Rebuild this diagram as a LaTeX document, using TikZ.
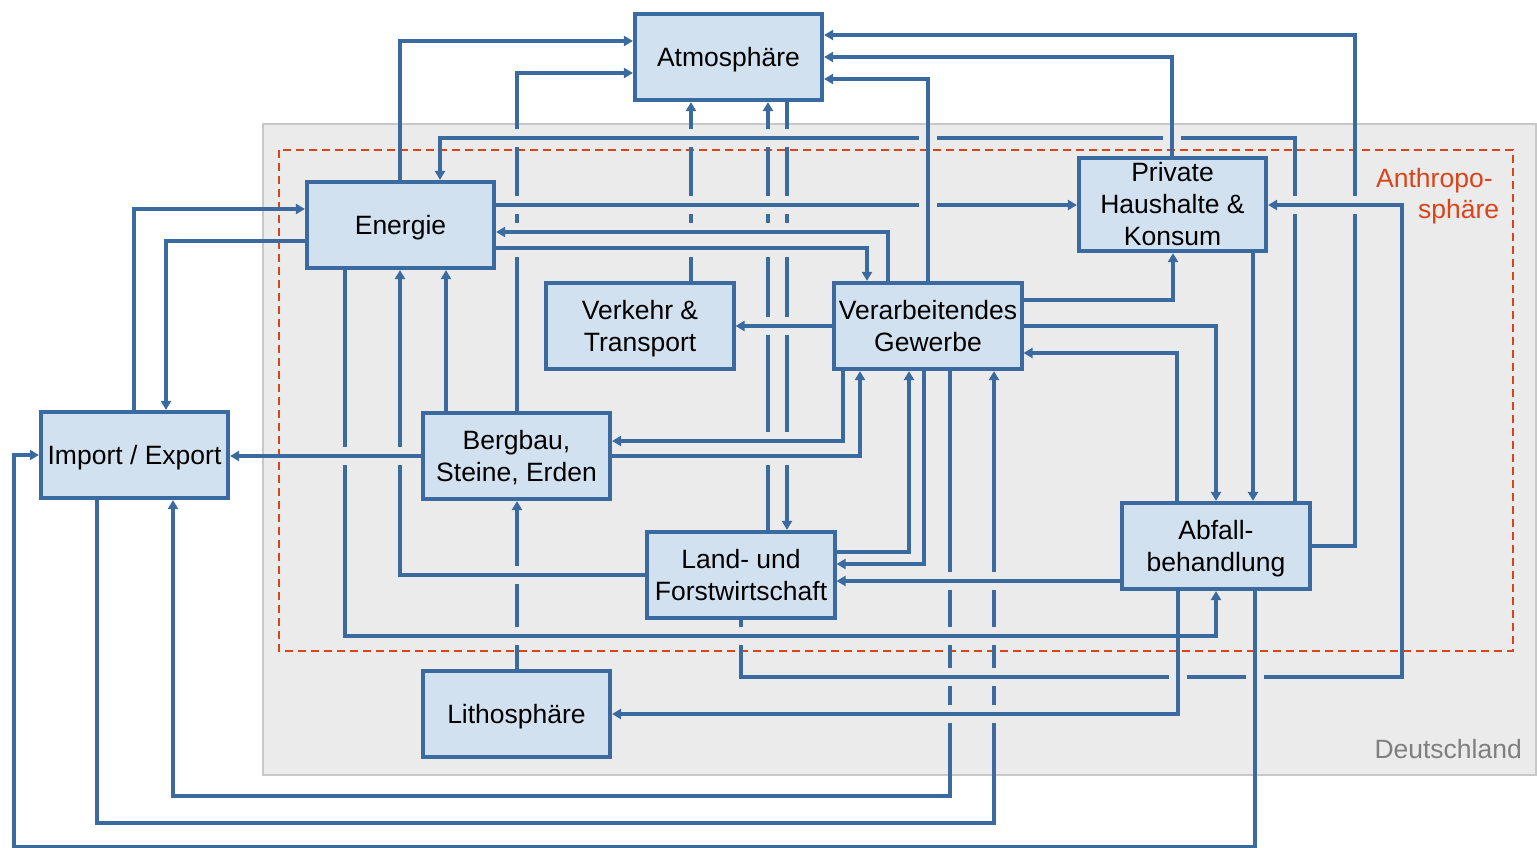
\documentclass[tikz,border=0pt]{standalone}
\usepackage{fontspec}
\setmainfont{Liberation Sans}
\usetikzlibrary{arrows.meta}
\definecolor{linec}{HTML}{3A6A9F}
\definecolor{boxc}{HTML}{D2E1F0}
\definecolor{bgc}{HTML}{EBEBEB}
\definecolor{bgborder}{HTML}{C8C8C8}
\definecolor{redc}{HTML}{D9441A}
\definecolor{greytext}{HTML}{7F7F7F}
\newcommand\bxfont{\fontsize{26.5}{32}\selectfont}
% line strut with the font's ascent and descent
\newcommand\lst{\rule[-0.212em]{0pt}{1.117em}}
% gap in a vertical line crossed by a horizontal one
\newcommand\vgapm[2]{\fill[bgc] (#1-3.5,#2-9) rectangle (#1+3.5,#2+9);
  \fill[linec] (#1-3.7,#2-1.65) rectangle (#1+3.7,#2+1.65);}
% gap in a horizontal line crossed by a vertical one
\newcommand\hgapm[2]{\fill[bgc] (#1-9,#2-3.5) rectangle (#1+9,#2+3.5);
  \fill[linec] (#1-1.65,#2-3.7) rectangle (#1+1.65,#2+3.7);}
\begin{document}
\begin{tikzpicture}[x=1pt,y=-1pt,
  box/.style={draw=linec, fill=boxc, line width=3.7pt, minimum width=187.5pt,
    minimum height=86.5pt, inner sep=0pt, align=center, font=\bxfont},
  flow/.style={draw=linec, line width=3.3pt, -{Triangle[length=9pt,width=10pt]}},
  lbl/.style={font=\bxfont, inner sep=0pt}]
\useasboundingbox (0,0) rectangle (1537,848);
% regions
\draw[fill=bgc, draw=bgborder, line width=2pt] (263,124) rectangle (1536,775);
\draw[draw=redc, line width=1.8pt, dash pattern=on 8pt off 5pt] (279,150) rectangle (1513,651);
\node[lbl, text=greytext, anchor=east] (de) at (1522,749) {Deutschland};
\node[lbl, text=redc, anchor=base west] (an1) at (1376,187) {Anthropo-};
\node[lbl, text=redc, anchor=base west] (an2) at (1418,218) {sphäre};
% boxes
\node[box] (at) at (728.5,57) {\lst Atmosphäre};
\node[box] (en) at (400.5,225) {\lst Energie};
\node[box] (ph) at (1172.5,204.5) {\lst Private\\\lst Haushalte \&\\\lst Konsum};
\node[box] (vk) at (640,326) {\lst Verkehr \&\\\lst Transport};
\node[box] (vg) at (928,326) {\lst Verarbeitendes\\\lst Gewerbe};
\node[box] (ie) at (134.5,455) {\lst Import / Export};
\node[box] (bb) at (516.5,456) {\lst Bergbau,\\\lst Steine, Erden};
\node[box] (lf) at (741,575) {\lst Land- und\\\lst Forstwirtschaft};
\node[box] (ab) at (1216,546) {\lst Abfall-\\\lst behandlung};
\node[box] (lt) at (516.5,714) {\lst Lithosphäre};
% into Atmosphaere
\draw[flow] (en.north -| 400,0) |- (at.west |- 0,41);
\draw[flow] (bb.north -| 517,0) |- (at.west |- 0,73);
\draw[flow] (vk.north -| 691,0) -- (at.south -| 691,0);
\draw[flow] (lf.north -| 768,0) -- (at.south -| 768,0);
\draw[flow] (at.south -| 787,0) -- (lf.north -| 787,0);
\draw[flow] (vg.north -| 928,0) |- (at.east |- 0,79);
\draw[flow] (ph.north -| 1172,0) |- (at.east |- 0,57);
\draw[flow] (ab.east |- 0,546) -| (1355,35) -- (at.east |- 0,35);
% Energie
\draw[flow] (ab.north -| 1295,0) |- (440,138) -- (en.north -| 440,0);
\draw[flow] (en.east |- 0,205) -- (ph.west |- 0,205);
\draw[flow] (vg.north -| 888,0) |- (en.east |- 0,232);
\draw[flow] (en.east |- 0,248) -| (vg.north -| 867,0);
\draw[flow] (en.west |- 0,241) -| (ie.north -| 166,0);
\draw[flow] (ie.north -| 134,0) |- (en.west |- 0,209);
\draw[flow] (bb.north -| 446,0) -- (en.south -| 446,0);
\draw[flow] (lf.west |- 0,575) -| (en.south -| 400,0);
\draw[flow] (en.south -| 345,0) |- (1216,636) -- (ab.south -| 1216,0);
% Bergbau
\draw[flow] (bb.west |- 0,456) -- (ie.east |- 0,456);
\draw[flow] (vg.south -| 843,0) |- (bb.east |- 0,441);
\draw[flow] (bb.east |- 0,456) -| (vg.south -| 860,0);
\draw[flow] (lt.north -| 517,0) -- (bb.south -| 517,0);
% Verarbeitendes Gewerbe
\draw[flow] (vg.west) -- (vk.east);
\draw[flow] (lf.east |- 0,552) -| (vg.south -| 909,0);
\draw[flow] (vg.south -| 924,0) |- (lf.east |- 0,564);
\draw[flow] (ab.west |- 0,581) -- (lf.east |- 0,581);
\draw[flow] (vg.south -| 950,0) |- (173,796) -- (ie.south -| 173,0);
\draw[flow] (ie.south -| 97,0) |- (994,823) -- (vg.south -| 994,0);
\draw[flow] (vg.east |- 0,300) -| (ph.south -| 1173,0);
\draw[flow] (vg.east |- 0,326) -| (ab.north -| 1216,0);
\draw[flow] (ab.north -| 1177,0) |- (vg.east |- 0,353);
% Abfall, Private
\draw[flow] (ab.south -| 1255,0) |- (14,847) |- (ie.west |- 0,455);
\draw[flow] (ab.south -| 1178,0) |- (lt.east |- 0,714);
\draw[flow] (lf.south -| 741,0) |- (1402,677) |- (ph.east |- 0,205);
\draw[flow] (ph.south -| 1253,0) -- (ab.north -| 1253,0);
% crossing gaps
\foreach \yy in {138,205,232,248} {\vgapm{517}{\yy}\vgapm{691}{\yy}}
\foreach \yy in {575,636} {\vgapm{517}{\yy}}
\foreach \yy in {138,205,232,248,326,441,456} {\vgapm{768}{\yy}\vgapm{787}{\yy}}
\vgapm{1295}{205}\vgapm{1355}{205}
\vgapm{345}{456}\vgapm{400}{456}
\vgapm{741}{636}
\foreach \yy in {581,636,677,714} {\vgapm{950}{\yy}\vgapm{994}{\yy}}
\hgapm{928}{138}\hgapm{1172}{138}\hgapm{928}{205}
\hgapm{1178}{677}\hgapm{1255}{677}
\end{tikzpicture}
\end{document}
